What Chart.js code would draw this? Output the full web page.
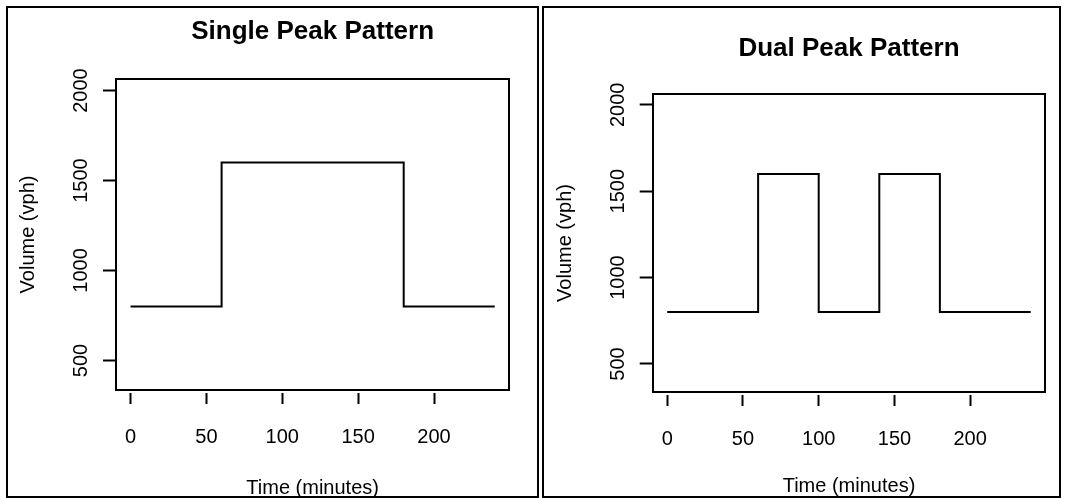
<!DOCTYPE html>
<html>
<head>
<meta charset="utf-8">
<script src="https://cdn.jsdelivr.net/npm/chart.js@4/dist/chart.umd.min.js"></script>
<style>
  html, body { margin: 0; padding: 0; background: #fff; }
  body { width: 1066px; height: 498px; position: relative; overflow: hidden; }
  .panel { position: absolute; top: 6px; height: 492px; border: 2px solid #000; box-sizing: border-box; background: #fff; }
  #p1 { left: 6px; width: 533px; }
  #p2 { left: 542px; width: 519px; }
  canvas { display: block; }
</style>
</head>
<body>
<div class="panel" id="p1"><canvas id="c1" width="529" height="488"></canvas></div>
<div class="panel" id="p2"><canvas id="c2" width="515" height="488"></canvas></div>
<script>
// Breakpoints of the two demand profiles (step functions, value holds until next time)
const singleTimes   = [0, 60, 180, 240];
const singleVolumes = [800, 1600, 800, 800];
const dualTimes     = [0, 60, 100, 140, 180, 240];
const dualVolumes   = [800, 1600, 800, 1600, 800, 800];

// Axis ticks and limits
const timeTicks   = [0, 50, 100, 150, 200];
const volumeTicks = [500, 1000, 1500, 2000];
const timeRange   = [0, 240];
const volumeRange = [400, 2000];

const panelTitles = ['Single Peak Pattern', 'Dual Peak Pattern'];
const xAxisTitle  = 'Time (minutes)';
const yAxisTitle  = 'Volume (vph)';

const FONT = "'Liberation Sans', Arial, Helvetica, sans-serif";
Chart.defaults.color = '#000';
Chart.defaults.font.family = FONT;

// Axis limits padded 4% on each side, base-graphics style
function padded(range) {
  const d = (range[1] - range[0]) * 0.04;
  return [range[0] - d, range[1] + d];
}

// Frame around the plotting region
const plotBox = {
  id: 'plotBox',
  afterDatasetsDraw(chart) {
    const { ctx, chartArea: a } = chart;
    ctx.save();
    ctx.lineWidth = 2;
    ctx.strokeStyle = '#000';
    ctx.strokeRect(Math.round(a.left), Math.round(a.top),
                   Math.round(a.right) - Math.round(a.left),
                   Math.round(a.bottom) - Math.round(a.top));
    ctx.restore();
  }
};

function drawPanel(canvasId, title, times, volumes, L) {
  const xr = padded(timeRange);
  const yr = padded(volumeRange);
  return new Chart(document.getElementById(canvasId), {
    type: 'line',
    data: {
      datasets: [{
        data: times.map((t, i) => ({ x: t, y: volumes[i] })),
        stepped: true,
        borderColor: '#000',
        borderWidth: 2,
        pointRadius: 0,
        fill: false
      }]
    },
    options: {
      responsive: false,
      animation: false,
      events: [],
      layout: { padding: { left: 0, top: 0, right: L.padRight, bottom: 0 } },
      plugins: {
        legend: { display: false },
        tooltip: { enabled: false },
        title: {
          display: true,
          text: title,
          fullSize: false,
          color: '#000',
          font: { family: FONT, size: 26, weight: 'bold', lineHeight: 1.2 },
          padding: L.titlePad
        }
      },
      scales: {
        x: {
          type: 'linear',
          min: xr[0],
          max: xr[1],
          afterBuildTicks: s => { s.ticks = timeTicks.map(v => ({ value: v })); },
          afterFit: s => { s.height = L.xHeight; },
          border: { display: false },
          grid: {
            display: true,
            drawOnChartArea: false,
            drawTicks: true,
            tickLength: 14,
            tickWidth: 2,
            tickColor: '#000',
            tickBorderDash: [0, 3, 11, 60]
          },
          ticks: {
            color: '#000',
            font: { family: FONT, size: 20 },
            padding: L.xTickPad,
            maxRotation: 0,
            minRotation: 0,
            callback: v => String(v)
          },
          title: {
            display: true,
            text: xAxisTitle,
            color: '#000',
            font: { family: FONT, size: 20, lineHeight: 1.2 },
            padding: { top: 0, bottom: L.xTitlePad }
          }
        },
        y: {
          type: 'linear',
          min: yr[0],
          max: yr[1],
          afterBuildTicks: s => { s.ticks = volumeTicks.map(v => ({ value: v })); },
          afterFit: s => { s.width = L.yWidth; },
          border: { display: false },
          grid: {
            display: true,
            drawOnChartArea: false,
            drawTicks: true,
            tickLength: 13,
            tickWidth: 2,
            tickColor: '#000'
          },
          ticks: {
            color: '#000',
            font: { family: FONT, size: 20 },
            padding: -1,
            minRotation: 90,
            maxRotation: 90,
            crossAlign: 'center',
            callback: v => String(v)
          },
          title: {
            display: true,
            text: yAxisTitle,
            color: '#000',
            font: { family: FONT, size: 20, lineHeight: 1.2 },
            padding: { top: L.yTitlePad, bottom: 0 }
          }
        }
      }
    },
    plugins: [plotBox]
  });
}

drawPanel('c1', panelTitles[0], singleTimes, singleVolumes, {
  yWidth: 108, xHeight: 106, padRight: 27.7,
  titlePad: { top: 8.4, bottom: 31.4 },
  xTickPad: 21, xTitlePad: -4, yTitlePad: 8
});
drawPanel('c2', panelTitles[1], dualTimes, dualVolumes, {
  yWidth: 108.7, xHeight: 103.7, padRight: 13.7,
  titlePad: { top: 24.9, bottom: 29.6 },
  xTickPad: 21, xTitlePad: -2, yTitlePad: 9
});
</script>
</body>
</html>
